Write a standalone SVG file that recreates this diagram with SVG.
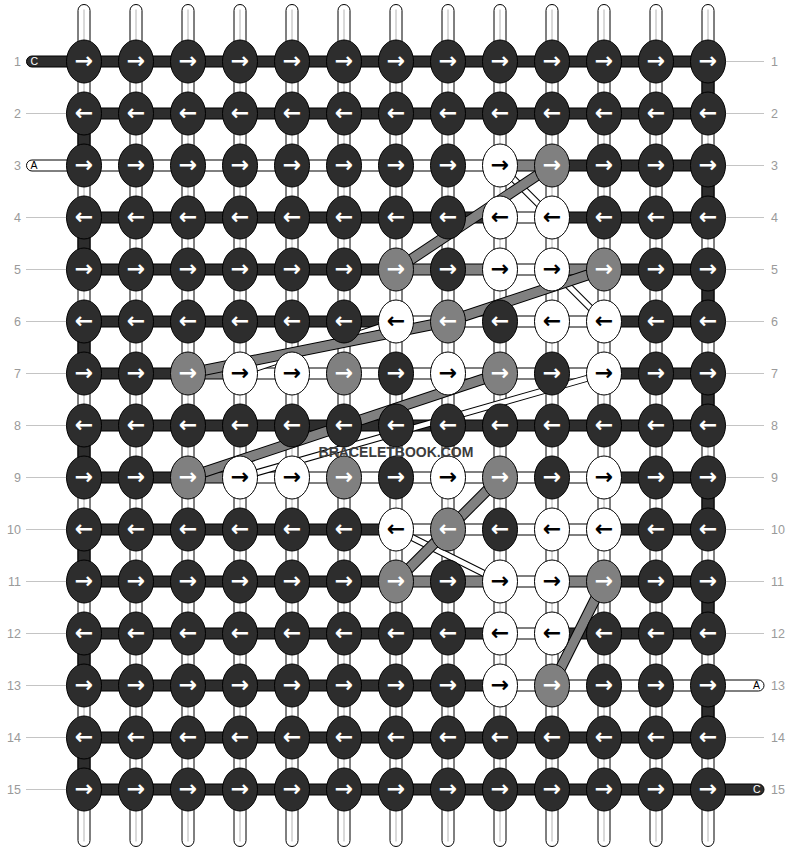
<svg xmlns="http://www.w3.org/2000/svg" width="792" height="852" viewBox="0 0 792 852">
<style>
.bg{fill:#fff}
.vs{fill:#fff;stroke:#000;stroke-width:1}
.vc{stroke:#b4b4b4;stroke-width:1}
.sd{fill:#2d2d2d;stroke:#000;stroke-width:1}
.sw{fill:#fff;stroke:#000;stroke-width:1}
.sg{fill:#808080;stroke:#000;stroke-width:1}
.ll{stroke:#c4c4c4;stroke-width:1}
.num{font-family:"Liberation Sans",Arial,sans-serif;font-size:12.5px;fill:#9a9a9a}
.lab{font-family:"Liberation Sans",Arial,sans-serif;font-size:10.5px}
.gb{fill:none;stroke:#000;stroke-width:11;stroke-linejoin:round}
.gf{fill:none;stroke:#808080;stroke-width:9;stroke-linejoin:round}
.wb{fill:none;stroke:#000;stroke-width:7}
.wf{fill:none;stroke:#fff;stroke-width:5}
ellipse{stroke:#000;stroke-width:1}
.d ellipse{fill:#2d2d2d}
.g ellipse{fill:#808080}
.w ellipse{fill:#fff}
.nodes text{font-family:"DejaVu Sans",sans-serif;font-weight:bold;font-size:22px;text-anchor:middle;fill:#fff}
.nodes .w text{fill:#000}
.wm{font-family:"Liberation Sans",Arial,sans-serif;font-weight:bold;font-size:14px;fill:#3c3c3c;text-anchor:middle}
</style>
<rect class="bg" x="0" y="0" width="792" height="852"/>
<g transform="translate(0,-0.5)">
<g id="strings">
<rect class="vs" x="78" y="5" width="12" height="842" rx="6"/><line class="vc" x1="84" y1="10" x2="84" y2="842"/>
<rect class="vs" x="130" y="5" width="12" height="842" rx="6"/><line class="vc" x1="136" y1="10" x2="136" y2="842"/>
<rect class="vs" x="182" y="5" width="12" height="842" rx="6"/><line class="vc" x1="188" y1="10" x2="188" y2="842"/>
<rect class="vs" x="234" y="5" width="12" height="842" rx="6"/><line class="vc" x1="240" y1="10" x2="240" y2="842"/>
<rect class="vs" x="286" y="5" width="12" height="842" rx="6"/><line class="vc" x1="292" y1="10" x2="292" y2="842"/>
<rect class="vs" x="338" y="5" width="12" height="842" rx="6"/><line class="vc" x1="344" y1="10" x2="344" y2="842"/>
<rect class="vs" x="390" y="5" width="12" height="842" rx="6"/><line class="vc" x1="396" y1="10" x2="396" y2="842"/>
<rect class="vs" x="442" y="5" width="12" height="842" rx="6"/><line class="vc" x1="448" y1="10" x2="448" y2="842"/>
<rect class="vs" x="494" y="5" width="12" height="842" rx="6"/><line class="vc" x1="500" y1="10" x2="500" y2="842"/>
<rect class="vs" x="546" y="5" width="12" height="842" rx="6"/><line class="vc" x1="552" y1="10" x2="552" y2="842"/>
<rect class="vs" x="598" y="5" width="12" height="842" rx="6"/><line class="vc" x1="604" y1="10" x2="604" y2="842"/>
<rect class="vs" x="650" y="5" width="12" height="842" rx="6"/><line class="vc" x1="656" y1="10" x2="656" y2="842"/>
<rect class="vs" x="702" y="5" width="12" height="842" rx="6"/><line class="vc" x1="708" y1="10" x2="708" y2="842"/>
</g>
<g id="labels">
<text class="num" x="21" y="66.5" text-anchor="end">1</text>
<text class="num" x="21" y="118.5" text-anchor="end">2</text>
<text class="num" x="21" y="170.5" text-anchor="end">3</text>
<text class="num" x="21" y="222.5" text-anchor="end">4</text>
<text class="num" x="21" y="274.5" text-anchor="end">5</text>
<text class="num" x="21" y="326.5" text-anchor="end">6</text>
<text class="num" x="21" y="378.5" text-anchor="end">7</text>
<text class="num" x="21" y="430.5" text-anchor="end">8</text>
<text class="num" x="21" y="482.5" text-anchor="end">9</text>
<text class="num" x="21" y="534.5" text-anchor="end">10</text>
<text class="num" x="21" y="586.5" text-anchor="end">11</text>
<text class="num" x="21" y="638.5" text-anchor="end">12</text>
<text class="num" x="21" y="690.5" text-anchor="end">13</text>
<text class="num" x="21" y="742.5" text-anchor="end">14</text>
<text class="num" x="21" y="794.5" text-anchor="end">15</text>
<text class="num" x="771" y="66.5">1</text>
<text class="num" x="771" y="118.5">2</text>
<text class="num" x="771" y="170.5">3</text>
<text class="num" x="771" y="222.5">4</text>
<text class="num" x="771" y="274.5">5</text>
<text class="num" x="771" y="326.5">6</text>
<text class="num" x="771" y="378.5">7</text>
<text class="num" x="771" y="430.5">8</text>
<text class="num" x="771" y="482.5">9</text>
<text class="num" x="771" y="534.5">10</text>
<text class="num" x="771" y="586.5">11</text>
<text class="num" x="771" y="638.5">12</text>
<text class="num" x="771" y="690.5">13</text>
<text class="num" x="771" y="742.5">14</text>
<text class="num" x="771" y="794.5">15</text>
<path class="ll" d="M26 114H67M26 218H67M26 270H67M26 322H67M26 374H67M26 426H67M26 478H67M26 530H67M26 582H67M26 634H67M26 686H67M26 738H67M26 790H67"/>
<path class="ll" d="M725 62H764M725 114H764M725 166H764M725 218H764M725 270H764M725 322H764M725 374H764M725 426H764M725 478H764M725 530H764M725 582H764M725 634H764M725 738H764"/>
</g>
<g id="connectors">
<rect class="sd" x="78" y="114" width="12" height="52"/>
<rect class="sd" x="78" y="218" width="12" height="52"/>
<rect class="sd" x="78" y="322" width="12" height="52"/>
<rect class="sd" x="78" y="426" width="12" height="52"/>
<rect class="sd" x="78" y="530" width="12" height="52"/>
<rect class="sd" x="78" y="634" width="12" height="52"/>
<rect class="sd" x="78" y="738" width="12" height="52"/>
<rect class="sd" x="702" y="62" width="12" height="52"/>
<rect class="sd" x="702" y="166" width="12" height="52"/>
<rect class="sd" x="702" y="270" width="12" height="52"/>
<rect class="sd" x="702" y="374" width="12" height="52"/>
<rect class="sd" x="702" y="478" width="12" height="52"/>
<rect class="sd" x="702" y="582" width="12" height="52"/>
<rect class="sd" x="702" y="686" width="12" height="52"/>
<rect class="sd" x="26.5" y="56.5" width="70" height="11" rx="5.5"/>
<rect class="sw" x="26.5" y="160.5" width="70" height="11" rx="5.5"/>
<rect class="sw" x="690" y="680.5" width="74" height="11" rx="5.5"/>
<rect class="sd" x="690" y="784.5" width="74" height="11" rx="5.5"/>
<rect class="sd" x="84" y="56.5" width="624" height="11"/>
<rect class="sd" x="84" y="108.5" width="624" height="11"/>
<rect class="sw" x="84" y="160.5" width="416" height="11"/>
<rect class="sg" x="500" y="160.5" width="52" height="11"/>
<rect class="sd" x="552" y="160.5" width="156" height="11"/>
<rect class="sd" x="84" y="212.5" width="416" height="11"/>
<rect class="sw" x="500" y="212.5" width="52" height="11"/>
<rect class="sd" x="552" y="212.5" width="156" height="11"/>
<rect class="sd" x="84" y="264.5" width="312" height="11"/>
<rect class="sg" x="396" y="264.5" width="104" height="11"/>
<rect class="sw" x="500" y="264.5" width="52" height="11"/>
<rect class="sg" x="552" y="264.5" width="52" height="11"/>
<rect class="sd" x="604" y="264.5" width="104" height="11"/>
<rect class="sd" x="84" y="316.5" width="312" height="11"/>
<rect class="sw" x="396" y="316.5" width="208" height="11"/>
<rect class="sd" x="604" y="316.5" width="104" height="11"/>
<rect class="sd" x="84" y="368.5" width="104" height="11"/>
<rect class="sg" x="188" y="368.5" width="52" height="11"/>
<rect class="sw" x="240" y="368.5" width="364" height="11"/>
<rect class="sd" x="604" y="368.5" width="104" height="11"/>
<rect class="sd" x="84" y="420.5" width="624" height="11"/>
<rect class="sd" x="84" y="472.5" width="104" height="11"/>
<rect class="sg" x="188" y="472.5" width="52" height="11"/>
<rect class="sw" x="240" y="472.5" width="364" height="11"/>
<rect class="sd" x="604" y="472.5" width="104" height="11"/>
<rect class="sd" x="84" y="524.5" width="312" height="11"/>
<rect class="sw" x="396" y="524.5" width="208" height="11"/>
<rect class="sd" x="604" y="524.5" width="104" height="11"/>
<rect class="sd" x="84" y="576.5" width="312" height="11"/>
<rect class="sg" x="396" y="576.5" width="104" height="11"/>
<rect class="sw" x="500" y="576.5" width="52" height="11"/>
<rect class="sg" x="552" y="576.5" width="52" height="11"/>
<rect class="sd" x="604" y="576.5" width="104" height="11"/>
<rect class="sd" x="84" y="628.5" width="416" height="11"/>
<rect class="sw" x="500" y="628.5" width="52" height="11"/>
<rect class="sd" x="552" y="628.5" width="156" height="11"/>
<rect class="sd" x="84" y="680.5" width="416" height="11"/>
<rect class="sw" x="500" y="680.5" width="208" height="11"/>
<rect class="sd" x="84" y="732.5" width="624" height="11"/>
<rect class="sd" x="84" y="784.5" width="624" height="11"/>
<polyline class="wb" points="500,166 552,218"/><polyline class="wf" points="500,166 552,218"/>
<polyline class="wb" points="552,270 604,322"/><polyline class="wf" points="552,270 604,322"/>
<polyline class="wb" points="396,322 240,374"/><polyline class="wf" points="396,322 240,374"/>
<polyline class="wb" points="604,374 240,478"/><polyline class="wf" points="604,374 240,478"/>
<polyline class="wb" points="396,530 500,582"/><polyline class="wf" points="396,530 500,582"/>
<polyline class="gb" points="552,166 396,270"/><polyline class="gf" points="552,166 396,270"/>
<polyline class="gb" points="604,270 448,322 188,374"/><polyline class="gf" points="604,270 448,322 188,374"/>
<polyline class="gb" points="500,374 188,478"/><polyline class="gf" points="500,374 188,478"/>
<polyline class="gb" points="500,478 396,582"/><polyline class="gf" points="500,478 396,582"/>
<polyline class="gb" points="604,582 552,686"/><polyline class="gf" points="604,582 552,686"/>
<text class="lab" x="30.5" y="65.8" fill="#fff">C</text>
<text class="lab" x="30.5" y="169.8" fill="#000">A</text>
<text class="lab" x="753" y="689.8" fill="#000">A</text>
<text class="lab" x="753" y="793.8" fill="#fff">C</text>
</g>
<g class="nodes">
<g id="n1-1" class="d"><ellipse cx="84" cy="62" rx="17.5" ry="21.5"/><text x="84" y="68.5">→</text></g>
<g id="n1-2" class="d"><ellipse cx="136" cy="62" rx="17.5" ry="21.5"/><text x="136" y="68.5">→</text></g>
<g id="n1-3" class="d"><ellipse cx="188" cy="62" rx="17.5" ry="21.5"/><text x="188" y="68.5">→</text></g>
<g id="n1-4" class="d"><ellipse cx="240" cy="62" rx="17.5" ry="21.5"/><text x="240" y="68.5">→</text></g>
<g id="n1-5" class="d"><ellipse cx="292" cy="62" rx="17.5" ry="21.5"/><text x="292" y="68.5">→</text></g>
<g id="n1-6" class="d"><ellipse cx="344" cy="62" rx="17.5" ry="21.5"/><text x="344" y="68.5">→</text></g>
<g id="n1-7" class="d"><ellipse cx="396" cy="62" rx="17.5" ry="21.5"/><text x="396" y="68.5">→</text></g>
<g id="n1-8" class="d"><ellipse cx="448" cy="62" rx="17.5" ry="21.5"/><text x="448" y="68.5">→</text></g>
<g id="n1-9" class="d"><ellipse cx="500" cy="62" rx="17.5" ry="21.5"/><text x="500" y="68.5">→</text></g>
<g id="n1-10" class="d"><ellipse cx="552" cy="62" rx="17.5" ry="21.5"/><text x="552" y="68.5">→</text></g>
<g id="n1-11" class="d"><ellipse cx="604" cy="62" rx="17.5" ry="21.5"/><text x="604" y="68.5">→</text></g>
<g id="n1-12" class="d"><ellipse cx="656" cy="62" rx="17.5" ry="21.5"/><text x="656" y="68.5">→</text></g>
<g id="n1-13" class="d"><ellipse cx="708" cy="62" rx="17.5" ry="21.5"/><text x="708" y="68.5">→</text></g>
<g id="n2-1" class="d"><ellipse cx="84" cy="114" rx="17.5" ry="21.5"/><text x="84" y="120.5">←</text></g>
<g id="n2-2" class="d"><ellipse cx="136" cy="114" rx="17.5" ry="21.5"/><text x="136" y="120.5">←</text></g>
<g id="n2-3" class="d"><ellipse cx="188" cy="114" rx="17.5" ry="21.5"/><text x="188" y="120.5">←</text></g>
<g id="n2-4" class="d"><ellipse cx="240" cy="114" rx="17.5" ry="21.5"/><text x="240" y="120.5">←</text></g>
<g id="n2-5" class="d"><ellipse cx="292" cy="114" rx="17.5" ry="21.5"/><text x="292" y="120.5">←</text></g>
<g id="n2-6" class="d"><ellipse cx="344" cy="114" rx="17.5" ry="21.5"/><text x="344" y="120.5">←</text></g>
<g id="n2-7" class="d"><ellipse cx="396" cy="114" rx="17.5" ry="21.5"/><text x="396" y="120.5">←</text></g>
<g id="n2-8" class="d"><ellipse cx="448" cy="114" rx="17.5" ry="21.5"/><text x="448" y="120.5">←</text></g>
<g id="n2-9" class="d"><ellipse cx="500" cy="114" rx="17.5" ry="21.5"/><text x="500" y="120.5">←</text></g>
<g id="n2-10" class="d"><ellipse cx="552" cy="114" rx="17.5" ry="21.5"/><text x="552" y="120.5">←</text></g>
<g id="n2-11" class="d"><ellipse cx="604" cy="114" rx="17.5" ry="21.5"/><text x="604" y="120.5">←</text></g>
<g id="n2-12" class="d"><ellipse cx="656" cy="114" rx="17.5" ry="21.5"/><text x="656" y="120.5">←</text></g>
<g id="n2-13" class="d"><ellipse cx="708" cy="114" rx="17.5" ry="21.5"/><text x="708" y="120.5">←</text></g>
<g id="n3-1" class="d"><ellipse cx="84" cy="166" rx="17.5" ry="21.5"/><text x="84" y="172.5">→</text></g>
<g id="n3-2" class="d"><ellipse cx="136" cy="166" rx="17.5" ry="21.5"/><text x="136" y="172.5">→</text></g>
<g id="n3-3" class="d"><ellipse cx="188" cy="166" rx="17.5" ry="21.5"/><text x="188" y="172.5">→</text></g>
<g id="n3-4" class="d"><ellipse cx="240" cy="166" rx="17.5" ry="21.5"/><text x="240" y="172.5">→</text></g>
<g id="n3-5" class="d"><ellipse cx="292" cy="166" rx="17.5" ry="21.5"/><text x="292" y="172.5">→</text></g>
<g id="n3-6" class="d"><ellipse cx="344" cy="166" rx="17.5" ry="21.5"/><text x="344" y="172.5">→</text></g>
<g id="n3-7" class="d"><ellipse cx="396" cy="166" rx="17.5" ry="21.5"/><text x="396" y="172.5">→</text></g>
<g id="n3-8" class="d"><ellipse cx="448" cy="166" rx="17.5" ry="21.5"/><text x="448" y="172.5">→</text></g>
<g id="n3-9" class="w"><ellipse cx="500" cy="166" rx="17.5" ry="21.5"/><text x="500" y="172.5">→</text></g>
<g id="n3-10" class="g"><ellipse cx="552" cy="166" rx="17.5" ry="21.5"/><text x="552" y="172.5">→</text></g>
<g id="n3-11" class="d"><ellipse cx="604" cy="166" rx="17.5" ry="21.5"/><text x="604" y="172.5">→</text></g>
<g id="n3-12" class="d"><ellipse cx="656" cy="166" rx="17.5" ry="21.5"/><text x="656" y="172.5">→</text></g>
<g id="n3-13" class="d"><ellipse cx="708" cy="166" rx="17.5" ry="21.5"/><text x="708" y="172.5">→</text></g>
<g id="n4-1" class="d"><ellipse cx="84" cy="218" rx="17.5" ry="21.5"/><text x="84" y="224.5">←</text></g>
<g id="n4-2" class="d"><ellipse cx="136" cy="218" rx="17.5" ry="21.5"/><text x="136" y="224.5">←</text></g>
<g id="n4-3" class="d"><ellipse cx="188" cy="218" rx="17.5" ry="21.5"/><text x="188" y="224.5">←</text></g>
<g id="n4-4" class="d"><ellipse cx="240" cy="218" rx="17.5" ry="21.5"/><text x="240" y="224.5">←</text></g>
<g id="n4-5" class="d"><ellipse cx="292" cy="218" rx="17.5" ry="21.5"/><text x="292" y="224.5">←</text></g>
<g id="n4-6" class="d"><ellipse cx="344" cy="218" rx="17.5" ry="21.5"/><text x="344" y="224.5">←</text></g>
<g id="n4-7" class="d"><ellipse cx="396" cy="218" rx="17.5" ry="21.5"/><text x="396" y="224.5">←</text></g>
<g id="n4-8" class="d"><ellipse cx="448" cy="218" rx="17.5" ry="21.5"/><text x="448" y="224.5">←</text></g>
<g id="n4-9" class="w"><ellipse cx="500" cy="218" rx="17.5" ry="21.5"/><text x="500" y="224.5">←</text></g>
<g id="n4-10" class="w"><ellipse cx="552" cy="218" rx="17.5" ry="21.5"/><text x="552" y="224.5">←</text></g>
<g id="n4-11" class="d"><ellipse cx="604" cy="218" rx="17.5" ry="21.5"/><text x="604" y="224.5">←</text></g>
<g id="n4-12" class="d"><ellipse cx="656" cy="218" rx="17.5" ry="21.5"/><text x="656" y="224.5">←</text></g>
<g id="n4-13" class="d"><ellipse cx="708" cy="218" rx="17.5" ry="21.5"/><text x="708" y="224.5">←</text></g>
<g id="n5-1" class="d"><ellipse cx="84" cy="270" rx="17.5" ry="21.5"/><text x="84" y="276.5">→</text></g>
<g id="n5-2" class="d"><ellipse cx="136" cy="270" rx="17.5" ry="21.5"/><text x="136" y="276.5">→</text></g>
<g id="n5-3" class="d"><ellipse cx="188" cy="270" rx="17.5" ry="21.5"/><text x="188" y="276.5">→</text></g>
<g id="n5-4" class="d"><ellipse cx="240" cy="270" rx="17.5" ry="21.5"/><text x="240" y="276.5">→</text></g>
<g id="n5-5" class="d"><ellipse cx="292" cy="270" rx="17.5" ry="21.5"/><text x="292" y="276.5">→</text></g>
<g id="n5-6" class="d"><ellipse cx="344" cy="270" rx="17.5" ry="21.5"/><text x="344" y="276.5">→</text></g>
<g id="n5-7" class="g"><ellipse cx="396" cy="270" rx="17.5" ry="21.5"/><text x="396" y="276.5">→</text></g>
<g id="n5-8" class="d"><ellipse cx="448" cy="270" rx="17.5" ry="21.5"/><text x="448" y="276.5">→</text></g>
<g id="n5-9" class="w"><ellipse cx="500" cy="270" rx="17.5" ry="21.5"/><text x="500" y="276.5">→</text></g>
<g id="n5-10" class="w"><ellipse cx="552" cy="270" rx="17.5" ry="21.5"/><text x="552" y="276.5">→</text></g>
<g id="n5-11" class="g"><ellipse cx="604" cy="270" rx="17.5" ry="21.5"/><text x="604" y="276.5">→</text></g>
<g id="n5-12" class="d"><ellipse cx="656" cy="270" rx="17.5" ry="21.5"/><text x="656" y="276.5">→</text></g>
<g id="n5-13" class="d"><ellipse cx="708" cy="270" rx="17.5" ry="21.5"/><text x="708" y="276.5">→</text></g>
<g id="n6-1" class="d"><ellipse cx="84" cy="322" rx="17.5" ry="21.5"/><text x="84" y="328.5">←</text></g>
<g id="n6-2" class="d"><ellipse cx="136" cy="322" rx="17.5" ry="21.5"/><text x="136" y="328.5">←</text></g>
<g id="n6-3" class="d"><ellipse cx="188" cy="322" rx="17.5" ry="21.5"/><text x="188" y="328.5">←</text></g>
<g id="n6-4" class="d"><ellipse cx="240" cy="322" rx="17.5" ry="21.5"/><text x="240" y="328.5">←</text></g>
<g id="n6-5" class="d"><ellipse cx="292" cy="322" rx="17.5" ry="21.5"/><text x="292" y="328.5">←</text></g>
<g id="n6-6" class="d"><ellipse cx="344" cy="322" rx="17.5" ry="21.5"/><text x="344" y="328.5">←</text></g>
<g id="n6-7" class="w"><ellipse cx="396" cy="322" rx="17.5" ry="21.5"/><text x="396" y="328.5">←</text></g>
<g id="n6-8" class="g"><ellipse cx="448" cy="322" rx="17.5" ry="21.5"/><text x="448" y="328.5">←</text></g>
<g id="n6-9" class="d"><ellipse cx="500" cy="322" rx="17.5" ry="21.5"/><text x="500" y="328.5">←</text></g>
<g id="n6-10" class="w"><ellipse cx="552" cy="322" rx="17.5" ry="21.5"/><text x="552" y="328.5">←</text></g>
<g id="n6-11" class="w"><ellipse cx="604" cy="322" rx="17.5" ry="21.5"/><text x="604" y="328.5">←</text></g>
<g id="n6-12" class="d"><ellipse cx="656" cy="322" rx="17.5" ry="21.5"/><text x="656" y="328.5">←</text></g>
<g id="n6-13" class="d"><ellipse cx="708" cy="322" rx="17.5" ry="21.5"/><text x="708" y="328.5">←</text></g>
<g id="n7-1" class="d"><ellipse cx="84" cy="374" rx="17.5" ry="21.5"/><text x="84" y="380.5">→</text></g>
<g id="n7-2" class="d"><ellipse cx="136" cy="374" rx="17.5" ry="21.5"/><text x="136" y="380.5">→</text></g>
<g id="n7-3" class="g"><ellipse cx="188" cy="374" rx="17.5" ry="21.5"/><text x="188" y="380.5">→</text></g>
<g id="n7-4" class="w"><ellipse cx="240" cy="374" rx="17.5" ry="21.5"/><text x="240" y="380.5">→</text></g>
<g id="n7-5" class="w"><ellipse cx="292" cy="374" rx="17.5" ry="21.5"/><text x="292" y="380.5">→</text></g>
<g id="n7-6" class="g"><ellipse cx="344" cy="374" rx="17.5" ry="21.5"/><text x="344" y="380.5">→</text></g>
<g id="n7-7" class="d"><ellipse cx="396" cy="374" rx="17.5" ry="21.5"/><text x="396" y="380.5">→</text></g>
<g id="n7-8" class="w"><ellipse cx="448" cy="374" rx="17.5" ry="21.5"/><text x="448" y="380.5">→</text></g>
<g id="n7-9" class="g"><ellipse cx="500" cy="374" rx="17.5" ry="21.5"/><text x="500" y="380.5">→</text></g>
<g id="n7-10" class="d"><ellipse cx="552" cy="374" rx="17.5" ry="21.5"/><text x="552" y="380.5">→</text></g>
<g id="n7-11" class="w"><ellipse cx="604" cy="374" rx="17.5" ry="21.5"/><text x="604" y="380.5">→</text></g>
<g id="n7-12" class="d"><ellipse cx="656" cy="374" rx="17.5" ry="21.5"/><text x="656" y="380.5">→</text></g>
<g id="n7-13" class="d"><ellipse cx="708" cy="374" rx="17.5" ry="21.5"/><text x="708" y="380.5">→</text></g>
<g id="n8-1" class="d"><ellipse cx="84" cy="426" rx="17.5" ry="21.5"/><text x="84" y="432.5">←</text></g>
<g id="n8-2" class="d"><ellipse cx="136" cy="426" rx="17.5" ry="21.5"/><text x="136" y="432.5">←</text></g>
<g id="n8-3" class="d"><ellipse cx="188" cy="426" rx="17.5" ry="21.5"/><text x="188" y="432.5">←</text></g>
<g id="n8-4" class="d"><ellipse cx="240" cy="426" rx="17.5" ry="21.5"/><text x="240" y="432.5">←</text></g>
<g id="n8-5" class="d"><ellipse cx="292" cy="426" rx="17.5" ry="21.5"/><text x="292" y="432.5">←</text></g>
<g id="n8-6" class="d"><ellipse cx="344" cy="426" rx="17.5" ry="21.5"/><text x="344" y="432.5">←</text></g>
<g id="n8-7" class="d"><ellipse cx="396" cy="426" rx="17.5" ry="21.5"/><text x="396" y="432.5">←</text></g>
<g id="n8-8" class="d"><ellipse cx="448" cy="426" rx="17.5" ry="21.5"/><text x="448" y="432.5">←</text></g>
<g id="n8-9" class="d"><ellipse cx="500" cy="426" rx="17.5" ry="21.5"/><text x="500" y="432.5">←</text></g>
<g id="n8-10" class="d"><ellipse cx="552" cy="426" rx="17.5" ry="21.5"/><text x="552" y="432.5">←</text></g>
<g id="n8-11" class="d"><ellipse cx="604" cy="426" rx="17.5" ry="21.5"/><text x="604" y="432.5">←</text></g>
<g id="n8-12" class="d"><ellipse cx="656" cy="426" rx="17.5" ry="21.5"/><text x="656" y="432.5">←</text></g>
<g id="n8-13" class="d"><ellipse cx="708" cy="426" rx="17.5" ry="21.5"/><text x="708" y="432.5">←</text></g>
<g id="n9-1" class="d"><ellipse cx="84" cy="478" rx="17.5" ry="21.5"/><text x="84" y="484.5">→</text></g>
<g id="n9-2" class="d"><ellipse cx="136" cy="478" rx="17.5" ry="21.5"/><text x="136" y="484.5">→</text></g>
<g id="n9-3" class="g"><ellipse cx="188" cy="478" rx="17.5" ry="21.5"/><text x="188" y="484.5">→</text></g>
<g id="n9-4" class="w"><ellipse cx="240" cy="478" rx="17.5" ry="21.5"/><text x="240" y="484.5">→</text></g>
<g id="n9-5" class="w"><ellipse cx="292" cy="478" rx="17.5" ry="21.5"/><text x="292" y="484.5">→</text></g>
<g id="n9-6" class="g"><ellipse cx="344" cy="478" rx="17.5" ry="21.5"/><text x="344" y="484.5">→</text></g>
<g id="n9-7" class="d"><ellipse cx="396" cy="478" rx="17.5" ry="21.5"/><text x="396" y="484.5">→</text></g>
<g id="n9-8" class="w"><ellipse cx="448" cy="478" rx="17.5" ry="21.5"/><text x="448" y="484.5">→</text></g>
<g id="n9-9" class="g"><ellipse cx="500" cy="478" rx="17.5" ry="21.5"/><text x="500" y="484.5">→</text></g>
<g id="n9-10" class="d"><ellipse cx="552" cy="478" rx="17.5" ry="21.5"/><text x="552" y="484.5">→</text></g>
<g id="n9-11" class="w"><ellipse cx="604" cy="478" rx="17.5" ry="21.5"/><text x="604" y="484.5">→</text></g>
<g id="n9-12" class="d"><ellipse cx="656" cy="478" rx="17.5" ry="21.5"/><text x="656" y="484.5">→</text></g>
<g id="n9-13" class="d"><ellipse cx="708" cy="478" rx="17.5" ry="21.5"/><text x="708" y="484.5">→</text></g>
<g id="n10-1" class="d"><ellipse cx="84" cy="530" rx="17.5" ry="21.5"/><text x="84" y="536.5">←</text></g>
<g id="n10-2" class="d"><ellipse cx="136" cy="530" rx="17.5" ry="21.5"/><text x="136" y="536.5">←</text></g>
<g id="n10-3" class="d"><ellipse cx="188" cy="530" rx="17.5" ry="21.5"/><text x="188" y="536.5">←</text></g>
<g id="n10-4" class="d"><ellipse cx="240" cy="530" rx="17.5" ry="21.5"/><text x="240" y="536.5">←</text></g>
<g id="n10-5" class="d"><ellipse cx="292" cy="530" rx="17.5" ry="21.5"/><text x="292" y="536.5">←</text></g>
<g id="n10-6" class="d"><ellipse cx="344" cy="530" rx="17.5" ry="21.5"/><text x="344" y="536.5">←</text></g>
<g id="n10-7" class="w"><ellipse cx="396" cy="530" rx="17.5" ry="21.5"/><text x="396" y="536.5">←</text></g>
<g id="n10-8" class="g"><ellipse cx="448" cy="530" rx="17.5" ry="21.5"/><text x="448" y="536.5">←</text></g>
<g id="n10-9" class="d"><ellipse cx="500" cy="530" rx="17.5" ry="21.5"/><text x="500" y="536.5">←</text></g>
<g id="n10-10" class="w"><ellipse cx="552" cy="530" rx="17.5" ry="21.5"/><text x="552" y="536.5">←</text></g>
<g id="n10-11" class="w"><ellipse cx="604" cy="530" rx="17.5" ry="21.5"/><text x="604" y="536.5">←</text></g>
<g id="n10-12" class="d"><ellipse cx="656" cy="530" rx="17.5" ry="21.5"/><text x="656" y="536.5">←</text></g>
<g id="n10-13" class="d"><ellipse cx="708" cy="530" rx="17.5" ry="21.5"/><text x="708" y="536.5">←</text></g>
<g id="n11-1" class="d"><ellipse cx="84" cy="582" rx="17.5" ry="21.5"/><text x="84" y="588.5">→</text></g>
<g id="n11-2" class="d"><ellipse cx="136" cy="582" rx="17.5" ry="21.5"/><text x="136" y="588.5">→</text></g>
<g id="n11-3" class="d"><ellipse cx="188" cy="582" rx="17.5" ry="21.5"/><text x="188" y="588.5">→</text></g>
<g id="n11-4" class="d"><ellipse cx="240" cy="582" rx="17.5" ry="21.5"/><text x="240" y="588.5">→</text></g>
<g id="n11-5" class="d"><ellipse cx="292" cy="582" rx="17.5" ry="21.5"/><text x="292" y="588.5">→</text></g>
<g id="n11-6" class="d"><ellipse cx="344" cy="582" rx="17.5" ry="21.5"/><text x="344" y="588.5">→</text></g>
<g id="n11-7" class="g"><ellipse cx="396" cy="582" rx="17.5" ry="21.5"/><text x="396" y="588.5">→</text></g>
<g id="n11-8" class="d"><ellipse cx="448" cy="582" rx="17.5" ry="21.5"/><text x="448" y="588.5">→</text></g>
<g id="n11-9" class="w"><ellipse cx="500" cy="582" rx="17.5" ry="21.5"/><text x="500" y="588.5">→</text></g>
<g id="n11-10" class="w"><ellipse cx="552" cy="582" rx="17.5" ry="21.5"/><text x="552" y="588.5">→</text></g>
<g id="n11-11" class="g"><ellipse cx="604" cy="582" rx="17.5" ry="21.5"/><text x="604" y="588.5">→</text></g>
<g id="n11-12" class="d"><ellipse cx="656" cy="582" rx="17.5" ry="21.5"/><text x="656" y="588.5">→</text></g>
<g id="n11-13" class="d"><ellipse cx="708" cy="582" rx="17.5" ry="21.5"/><text x="708" y="588.5">→</text></g>
<g id="n12-1" class="d"><ellipse cx="84" cy="634" rx="17.5" ry="21.5"/><text x="84" y="640.5">←</text></g>
<g id="n12-2" class="d"><ellipse cx="136" cy="634" rx="17.5" ry="21.5"/><text x="136" y="640.5">←</text></g>
<g id="n12-3" class="d"><ellipse cx="188" cy="634" rx="17.5" ry="21.5"/><text x="188" y="640.5">←</text></g>
<g id="n12-4" class="d"><ellipse cx="240" cy="634" rx="17.5" ry="21.5"/><text x="240" y="640.5">←</text></g>
<g id="n12-5" class="d"><ellipse cx="292" cy="634" rx="17.5" ry="21.5"/><text x="292" y="640.5">←</text></g>
<g id="n12-6" class="d"><ellipse cx="344" cy="634" rx="17.5" ry="21.5"/><text x="344" y="640.5">←</text></g>
<g id="n12-7" class="d"><ellipse cx="396" cy="634" rx="17.5" ry="21.5"/><text x="396" y="640.5">←</text></g>
<g id="n12-8" class="d"><ellipse cx="448" cy="634" rx="17.5" ry="21.5"/><text x="448" y="640.5">←</text></g>
<g id="n12-9" class="w"><ellipse cx="500" cy="634" rx="17.5" ry="21.5"/><text x="500" y="640.5">←</text></g>
<g id="n12-10" class="w"><ellipse cx="552" cy="634" rx="17.5" ry="21.5"/><text x="552" y="640.5">←</text></g>
<g id="n12-11" class="d"><ellipse cx="604" cy="634" rx="17.5" ry="21.5"/><text x="604" y="640.5">←</text></g>
<g id="n12-12" class="d"><ellipse cx="656" cy="634" rx="17.5" ry="21.5"/><text x="656" y="640.5">←</text></g>
<g id="n12-13" class="d"><ellipse cx="708" cy="634" rx="17.5" ry="21.5"/><text x="708" y="640.5">←</text></g>
<g id="n13-1" class="d"><ellipse cx="84" cy="686" rx="17.5" ry="21.5"/><text x="84" y="692.5">→</text></g>
<g id="n13-2" class="d"><ellipse cx="136" cy="686" rx="17.5" ry="21.5"/><text x="136" y="692.5">→</text></g>
<g id="n13-3" class="d"><ellipse cx="188" cy="686" rx="17.5" ry="21.5"/><text x="188" y="692.5">→</text></g>
<g id="n13-4" class="d"><ellipse cx="240" cy="686" rx="17.5" ry="21.5"/><text x="240" y="692.5">→</text></g>
<g id="n13-5" class="d"><ellipse cx="292" cy="686" rx="17.5" ry="21.5"/><text x="292" y="692.5">→</text></g>
<g id="n13-6" class="d"><ellipse cx="344" cy="686" rx="17.5" ry="21.5"/><text x="344" y="692.5">→</text></g>
<g id="n13-7" class="d"><ellipse cx="396" cy="686" rx="17.5" ry="21.5"/><text x="396" y="692.5">→</text></g>
<g id="n13-8" class="d"><ellipse cx="448" cy="686" rx="17.5" ry="21.5"/><text x="448" y="692.5">→</text></g>
<g id="n13-9" class="w"><ellipse cx="500" cy="686" rx="17.5" ry="21.5"/><text x="500" y="692.5">→</text></g>
<g id="n13-10" class="g"><ellipse cx="552" cy="686" rx="17.5" ry="21.5"/><text x="552" y="692.5">→</text></g>
<g id="n13-11" class="d"><ellipse cx="604" cy="686" rx="17.5" ry="21.5"/><text x="604" y="692.5">→</text></g>
<g id="n13-12" class="d"><ellipse cx="656" cy="686" rx="17.5" ry="21.5"/><text x="656" y="692.5">→</text></g>
<g id="n13-13" class="d"><ellipse cx="708" cy="686" rx="17.5" ry="21.5"/><text x="708" y="692.5">→</text></g>
<g id="n14-1" class="d"><ellipse cx="84" cy="738" rx="17.5" ry="21.5"/><text x="84" y="744.5">←</text></g>
<g id="n14-2" class="d"><ellipse cx="136" cy="738" rx="17.5" ry="21.5"/><text x="136" y="744.5">←</text></g>
<g id="n14-3" class="d"><ellipse cx="188" cy="738" rx="17.5" ry="21.5"/><text x="188" y="744.5">←</text></g>
<g id="n14-4" class="d"><ellipse cx="240" cy="738" rx="17.5" ry="21.5"/><text x="240" y="744.5">←</text></g>
<g id="n14-5" class="d"><ellipse cx="292" cy="738" rx="17.5" ry="21.5"/><text x="292" y="744.5">←</text></g>
<g id="n14-6" class="d"><ellipse cx="344" cy="738" rx="17.5" ry="21.5"/><text x="344" y="744.5">←</text></g>
<g id="n14-7" class="d"><ellipse cx="396" cy="738" rx="17.5" ry="21.5"/><text x="396" y="744.5">←</text></g>
<g id="n14-8" class="d"><ellipse cx="448" cy="738" rx="17.5" ry="21.5"/><text x="448" y="744.5">←</text></g>
<g id="n14-9" class="d"><ellipse cx="500" cy="738" rx="17.5" ry="21.5"/><text x="500" y="744.5">←</text></g>
<g id="n14-10" class="d"><ellipse cx="552" cy="738" rx="17.5" ry="21.5"/><text x="552" y="744.5">←</text></g>
<g id="n14-11" class="d"><ellipse cx="604" cy="738" rx="17.5" ry="21.5"/><text x="604" y="744.5">←</text></g>
<g id="n14-12" class="d"><ellipse cx="656" cy="738" rx="17.5" ry="21.5"/><text x="656" y="744.5">←</text></g>
<g id="n14-13" class="d"><ellipse cx="708" cy="738" rx="17.5" ry="21.5"/><text x="708" y="744.5">←</text></g>
<g id="n15-1" class="d"><ellipse cx="84" cy="790" rx="17.5" ry="21.5"/><text x="84" y="796.5">→</text></g>
<g id="n15-2" class="d"><ellipse cx="136" cy="790" rx="17.5" ry="21.5"/><text x="136" y="796.5">→</text></g>
<g id="n15-3" class="d"><ellipse cx="188" cy="790" rx="17.5" ry="21.5"/><text x="188" y="796.5">→</text></g>
<g id="n15-4" class="d"><ellipse cx="240" cy="790" rx="17.5" ry="21.5"/><text x="240" y="796.5">→</text></g>
<g id="n15-5" class="d"><ellipse cx="292" cy="790" rx="17.5" ry="21.5"/><text x="292" y="796.5">→</text></g>
<g id="n15-6" class="d"><ellipse cx="344" cy="790" rx="17.5" ry="21.5"/><text x="344" y="796.5">→</text></g>
<g id="n15-7" class="d"><ellipse cx="396" cy="790" rx="17.5" ry="21.5"/><text x="396" y="796.5">→</text></g>
<g id="n15-8" class="d"><ellipse cx="448" cy="790" rx="17.5" ry="21.5"/><text x="448" y="796.5">→</text></g>
<g id="n15-9" class="d"><ellipse cx="500" cy="790" rx="17.5" ry="21.5"/><text x="500" y="796.5">→</text></g>
<g id="n15-10" class="d"><ellipse cx="552" cy="790" rx="17.5" ry="21.5"/><text x="552" y="796.5">→</text></g>
<g id="n15-11" class="d"><ellipse cx="604" cy="790" rx="17.5" ry="21.5"/><text x="604" y="796.5">→</text></g>
<g id="n15-12" class="d"><ellipse cx="656" cy="790" rx="17.5" ry="21.5"/><text x="656" y="796.5">→</text></g>
<g id="n15-13" class="d"><ellipse cx="708" cy="790" rx="17.5" ry="21.5"/><text x="708" y="796.5">→</text></g>
</g>
<text class="wm" x="396" y="457">BRACELETBOOK.COM</text>
</g>
</svg>
